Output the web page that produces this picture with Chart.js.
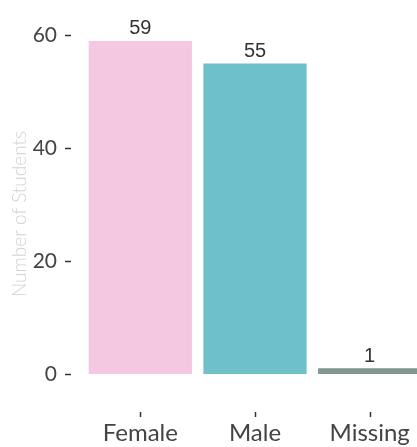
<!DOCTYPE html>
<html>
<head>
<meta charset="utf-8">
<script src="https://cdn.jsdelivr.net/npm/chart.js@4/dist/chart.umd.min.js"></script>
<style>
  html, body { margin: 0; padding: 0; background: #fff; overflow: hidden; }
  #wrap { width: 417px; height: 447px; overflow: hidden; }
  #box { width: 430px; height: 447px; }
</style>
</head>
<body>
<div id="wrap"><div id="box"><canvas id="chart"></canvas></div></div>
<script>
"use strict";

const CATEGORIES = ["Female", "Male", "Missing"];
const COUNTS = [59, 55, 1];
const BAR_COLORS = ["#f4c8e0", "#6ec0cb", "#7f9691"];
const Y_TICKS = [0, 20, 40, 60];
const Y_TITLE = "Number of Students";

// value labels, y title and ggplot-style detached tick marks
const extras = {
  id: "extras",
  afterDatasetsDraw(chart) {
    const { ctx } = chart;
    const meta = chart.getDatasetMeta(0);
    ctx.save();
    ctx.fillStyle = "#333";
    ctx.font = "20px 'Liberation Sans', Arial, sans-serif";
    ctx.textAlign = "center";
    ctx.textBaseline = "bottom";
    meta.data.forEach((bar, i) => {
      ctx.fillText(String(COUNTS[i]), bar.x, bar.y - 2);
    });

    ctx.strokeStyle = "#333";
    ctx.lineWidth = 1.5;
    const x = chart.scales.x;
    x.ticks.forEach((t, i) => {
      const px = Math.round(x.getPixelForTick(i)) + 0.5;
      ctx.beginPath();
      ctx.moveTo(px, 412);
      ctx.lineTo(px, 417);
      ctx.stroke();
    });
    const y = chart.scales.y;
    Y_TICKS.forEach((v) => {
      const py = Math.round(y.getPixelForValue(v)) + 0.5;
      ctx.beginPath();
      ctx.moveTo(65, py);
      ctx.lineTo(71, py);
      ctx.stroke();
    });

    ctx.translate(20, 214);
    ctx.rotate(-Math.PI / 2);
    ctx.fillStyle = "#d2d2d2";
    ctx.font = "300 19px Lato";
    ctx.textBaseline = "middle";
    ctx.fillText(Y_TITLE, 0, 0);
    ctx.restore();
  },
};

new Chart(document.getElementById("chart"), {
  type: "bar",
  data: {
    labels: CATEGORIES,
    datasets: [{
      data: COUNTS,
      backgroundColor: BAR_COLORS,
      borderWidth: 0,
      barPercentage: 0.9,
      categoryPercentage: 1,
    }],
  },
  options: {
    responsive: true,
    maintainAspectRatio: false,
    animation: false,
    layout: { padding: { top: 24, right: 3, left: 0, bottom: 0 } },
    plugins: { legend: { display: false }, tooltip: { enabled: false } },
    scales: {
      x: {
        grid: { display: false, drawTicks: false },
        border: { display: false },
        ticks: { color: "#444", font: { family: "Lato", size: 24 }, padding: 45 },
        afterFit(s) { s.height = 73; s.paddingLeft = 0; s.paddingRight = 0; },
      },
      y: {
        min: 0,
        max: 62,
        grid: { display: false, drawTicks: false },
        border: { display: false },
        afterBuildTicks(s) { s.ticks = Y_TICKS.map((v) => ({ value: v })); },
        ticks: { color: "#444", font: { family: "Lato", size: 21 }, padding: 26 },
        afterFit(s) { s.width = 83; s.paddingTop = 0; s.paddingBottom = 0; },
      },
    },
  },
  plugins: [extras],
});
</script>
</body>
</html>
